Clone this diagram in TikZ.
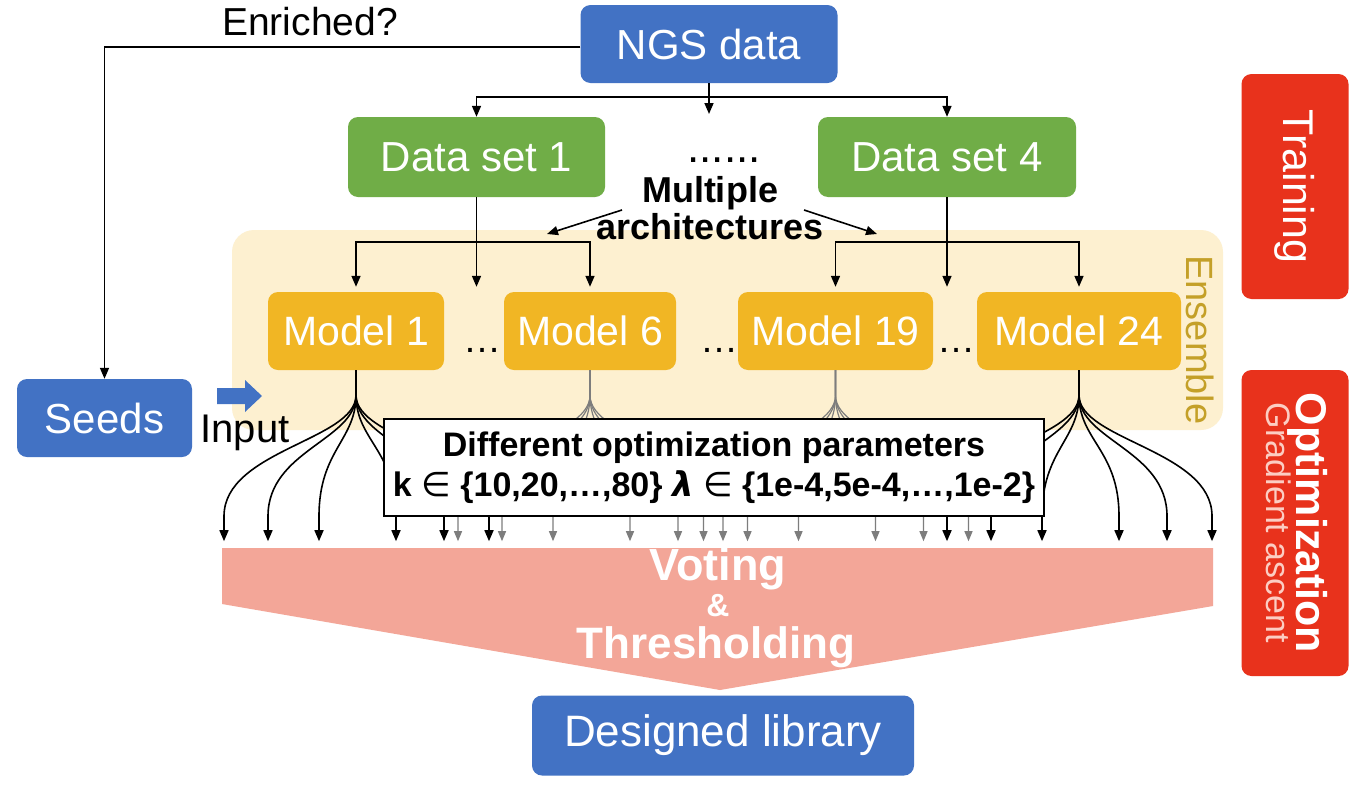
\documentclass[tikz,border=0pt]{standalone}
\usepackage{fontspec}
\setmainfont{Liberation Sans}
\newfontfamily\djv{DejaVu Sans}
\usetikzlibrary{arrows.meta}
\definecolor{cblue}{RGB}{66,114,196}
\definecolor{cgreen}{RGB}{112,173,71}
\definecolor{cgold}{RGB}{241,182,36}
\definecolor{cens}{RGB}{253,240,208}
\definecolor{censtxt}{RGB}{196,160,40}
\definecolor{cred}{RGB}{232,50,28}
\definecolor{csalmon}{RGB}{243,166,152}
\definecolor{cgrey}{RGB}{125,125,125}
\definecolor{cpink}{RGB}{252,205,195}
\newcommand{\fsz}[1]{\fontsize{#1}{#1}\selectfont}
\tikzset{
  box/.style={rounded corners=10pt, text=white, inner sep=0pt, font=\fsz{42}},
  conn/.style={line width=1.6pt, black},
  arr/.style={conn, -{Triangle[length=11pt,width=9pt]}},
  garr/.style={line width=1.2pt, cgrey, -{Triangle[length=10pt,width=8pt]}},
  lbl/.style={inner sep=0pt, font=\fsz{39}},
}
\begin{document}
\begin{tikzpicture}[x=1pt,y=-1pt]
\useasboundingbox (0,0) rectangle (1372,798);
\fill[white] (0,0) rectangle (1372,798);

% ensemble background
\fill[cens, rounded corners=22pt] (232,230) rectangle (1223,430);
\node[rotate=-90, text=censtxt, font=\fsz{38}, inner sep=0pt] (ens) at (1200,340) {Ensemble};

% top nodes
\node[box, fill=cblue, minimum width=257pt, minimum height=78pt] (ngs) at (709,44) {NGS data};
\node[box, fill=cgreen, minimum width=257pt, minimum height=80pt] (ds1) at (476.5,157) {Data set 1};
\node[box, fill=cgreen, minimum width=258pt, minimum height=80pt] (ds4) at (947,157) {Data set 4};
\node[lbl, font=\fsz{44}] (dots) at (724,160) {......};
\node[lbl, font=\bfseries\fsz{36}, align=center] (arch) at (710,208) {Multiple\\[1pt]architectures};
\node[lbl] (enr) at (310,22) {Enriched?};

% models
\node[box, fill=cgold, minimum width=176pt, minimum height=78pt, font=\fsz{41}] (m1) at (356,331) {Model 1};
\node[box, fill=cgold, minimum width=172pt, minimum height=78pt, font=\fsz{41}] (m6) at (590,331) {Model 6};
\node[box, fill=cgold, minimum width=195pt, minimum height=78pt, font=\fsz{41}] (m19) at (835.5,331) {Model 19};
\node[box, fill=cgold, minimum width=204pt, minimum height=78pt, font=\fsz{41}] (m24) at (1079,331) {Model 24};
\node[lbl, anchor=base, font=\fsz{38}] (e1) at (482,352) {\ldots};
\node[lbl, anchor=base, font=\fsz{38}] (e2) at (719,352) {\ldots};
\node[lbl, anchor=base, font=\fsz{38}] (e3) at (956,352) {\ldots};

% seeds and input
\node[box, fill=cblue, minimum width=175pt, minimum height=78pt] (seeds) at (104.5,418) {Seeds};
\fill[cblue] (217,388) -- (245,388) -- (245,380) -- (262,396) -- (245,412) -- (245,404) -- (217,404) -- cycle;
\node[lbl, anchor=base, font=\fsz{40}] (inp) at (245,442) {Input};

% right labels
\node[box, fill=cred, minimum width=107pt, minimum height=225pt] (train) at (1295,186.5) {};
\node[rotate=-90, text=white, font=\fsz{43}, inner sep=0pt] at (train.center) {Training};
\node[box, fill=cred, minimum width=107pt, minimum height=306pt] (opt) at (1295,523) {};
\node[rotate=-90, inner sep=0pt, align=center] at ([xshift=2pt]opt.center)
  {{\color{white}\bfseries\fsz{43}Optimization}\\[-4pt]{\color{cpink}\fsz{34}Gradient ascent}};

% connectors top
\draw[arr] ([yshift=-3pt]ngs.west) -| (seeds.north);
\coordinate (nb) at (709,97);
\coordinate (dtop) at (709,114);
\draw[conn] (ngs.south) -- (nb);
\draw[arr] (nb) -| (ds1.north);
\draw[arr] (nb) -| (ds4.north);
\draw[arr] (nb) -- (dtop);

\coordinate (b1) at (476.5,242);
\coordinate (b4) at (947,242);
\draw[arr, shorten >=5pt] (ds1.south) -- (ds1.south |- m1.north);
\draw[arr, shorten >=5pt] (b1) -| (m1.north);
\draw[arr, shorten >=5pt] (b1) -| (m6.north);
\draw[arr, shorten >=5pt] (ds4.south) -- (ds4.south |- m1.north);
\draw[arr, shorten >=5pt] (b4) -| (m19.north);
\draw[arr, shorten >=5pt] (b4) -| (m24.north);

\coordinate (al0) at (622,210);
\coordinate (al1) at (547,234);
\coordinate (ar0) at (804,210);
\coordinate (ar1) at (877,234);
\draw[arr] (al0) -- (al1);
\draw[arr] (ar0) -- (ar1);

% fans
\foreach \m in {m6,m19}{
  \foreach \d in {-132,-88,-37,40,88,133}{
    \draw[garr] (\m.south) -- ([yshift=-25pt]\m.south)
      .. controls ([yshift=-70pt]\m.south) and ([xshift=\d pt,yshift=-80pt]\m.south)
      .. ([xshift=\d pt,yshift=-146pt]\m.south) -- ([xshift=\d pt,yshift=-171pt]\m.south);
  }
}
\foreach \m in {m1,m24}{
  \foreach \d in {-132,-88,-37,40,88,133}{
    \draw[arr] (\m.south) -- ([yshift=-25pt]\m.south)
      .. controls ([yshift=-70pt]\m.south) and ([xshift=\d pt,yshift=-80pt]\m.south)
      .. ([xshift=\d pt,yshift=-146pt]\m.south) -- ([xshift=\d pt,yshift=-171pt]\m.south);
  }
}

% parameter box
\node[draw=black, line width=1.5pt, fill=white, minimum width=660pt, minimum height=97pt,
  inner sep=0pt, align=center, font=\bfseries\fsz{34}] (par) at (714,467.5)
  {Different optimization parameters\\[6pt]k {\djv\mdseries ∈} \{10,20,…,80\} {\djv\bfseries\itshape λ} {\djv\mdseries ∈} \{1e-4,5e-4,…,1e-2\}};

% voting shape
\fill[csalmon] (222,548) -- (1213,548) -- (1213,606) -- (720,690) -- (222,604) -- cycle;
\node[text=white, font=\bfseries\fsz{45}, inner sep=0pt, anchor=base] (vot) at (718,580) {Voting};
\node[text=white, font=\bfseries\fsz{32}, inner sep=0pt, anchor=base] (amp) at (718,616) {\&};
\node[text=white, font=\bfseries\fsz{44}, inner sep=0pt, anchor=base] (thr) at (716,658) {Thresholding};

% designed library
\node[box, fill=cblue, minimum width=382pt, minimum height=80pt, font=\fsz{44}] (lib) at (723,735.5) {Designed library};
\end{tikzpicture}
\end{document}
